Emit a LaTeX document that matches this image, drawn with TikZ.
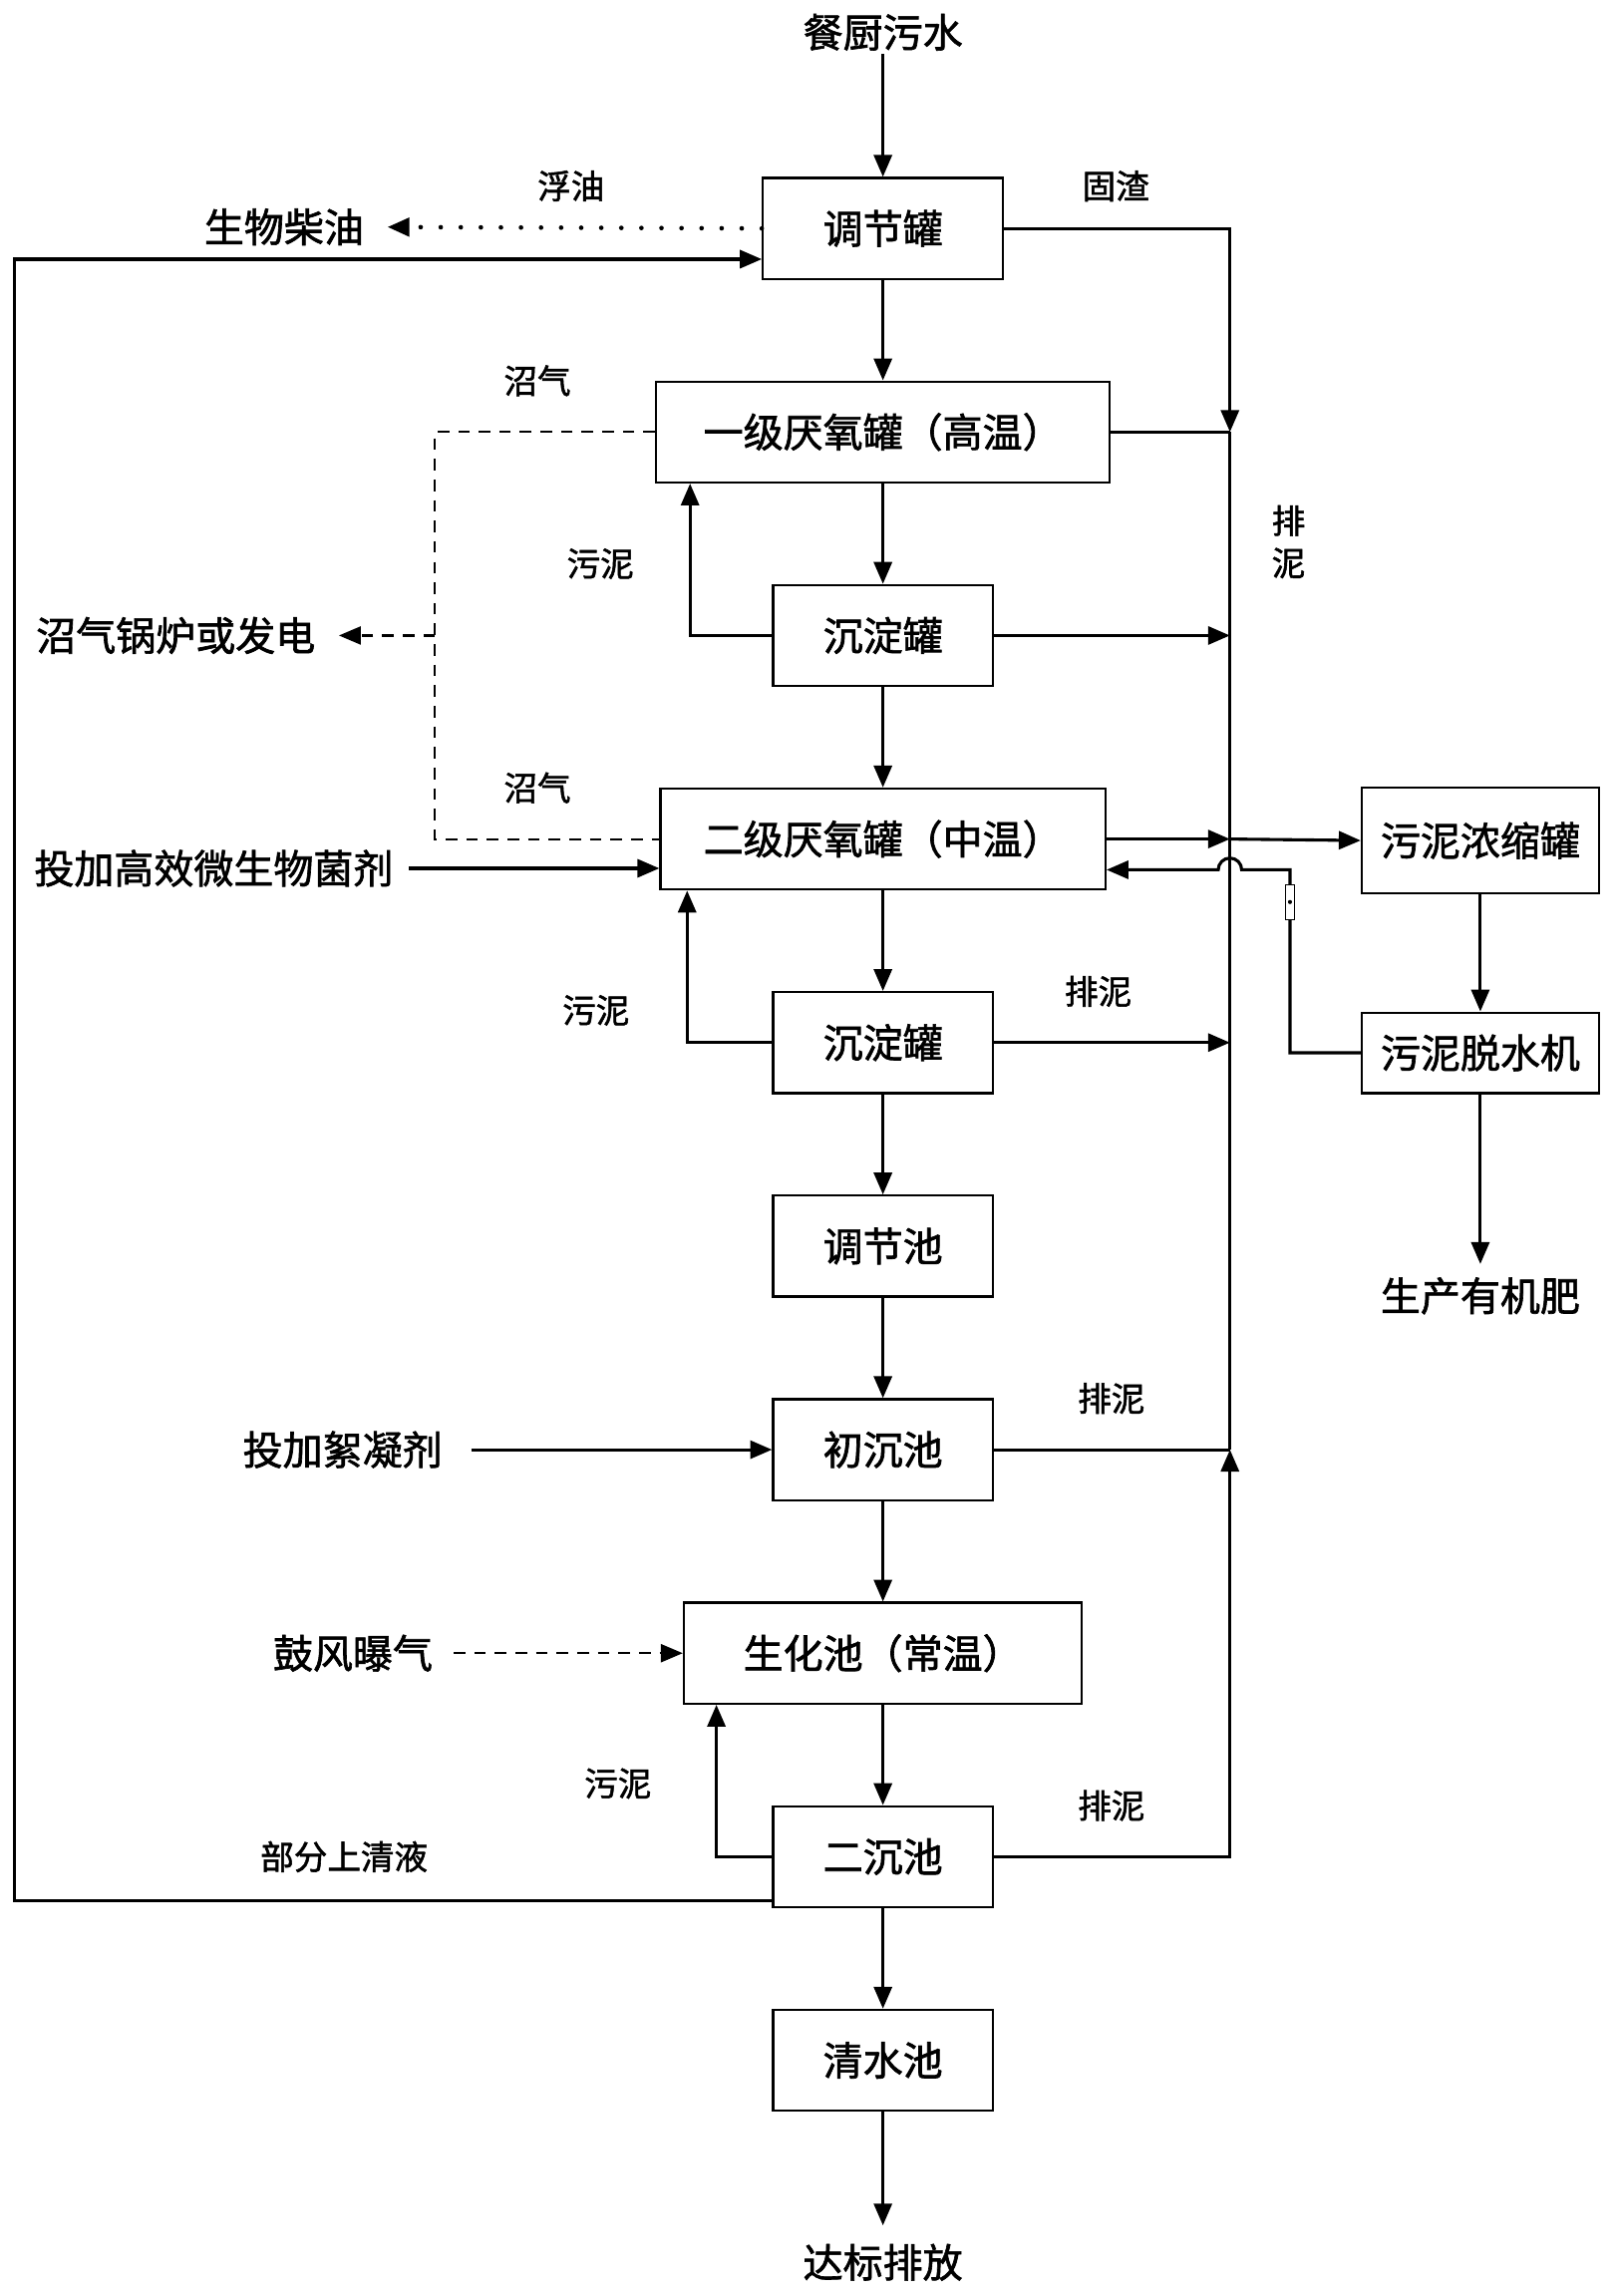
\documentclass[tikz,border=0pt]{standalone}
\usepackage{fontspec}
\newfontfamily\cjk[FakeBold=1.6]{Noto Sans CJK SC}
\usetikzlibrary{arrows.meta}
\newcommand{\bigcn}{\cjk\fontsize{15.5}{18}\selectfont}
\newcommand{\smallcn}{\cjk\fontsize{13}{16.4}\selectfont}

\begin{document}
\begin{tikzpicture}[x=0.02cm, y=-0.02cm,
    tank/.style={draw, line width=0.85pt, minimum width=3cm, minimum height=1.38cm, inner sep=0pt, font=\bigcn},
    lbl/.style={inner sep=1pt, font=\bigcn},
    tag/.style={inner sep=1pt, font=\smallcn},
    pipe/.style={line width=1.2pt},
    flow/.style={pipe, -{Triangle[length=8.5pt, width=7pt]}},
    gas/.style={line width=0.85pt, dash pattern=on 4.5pt off 3.5pt},
    gasflow/.style={gas, -{Triangle[length=8.5pt, width=7pt]}},
    oil/.style={line width=1.8pt, dash pattern=on 0pt off 7.8pt, line cap=round, -{Triangle[length=8.5pt, width=7pt, line cap=butt]}}]
    \useasboundingbox (0,0) rectangle (1103,1568);

    % main line
    \node[tank, minimum width=3.28cm] (tj) at (603,156) {调节罐};
    \node[tank, minimum width=6.2cm] (a1) at (603,295) {一级厌氧罐（高温）};
    \node[tank] (s1) at (603,434) {沉淀罐};
    \node[tank, minimum width=6.08cm] (a2) at (603,573) {二级厌氧罐（中温）};
    \node[tank] (s2) at (603,712) {沉淀罐};
    \node[tank] (tc) at (603,851) {调节池};
    \node[tank] (cc) at (603,990) {初沉池};
    \node[tank, minimum width=5.44cm] (sh) at (603,1129) {生化池（常温）};
    \node[tank] (ec) at (603,1268) {二沉池};
    \node[tank] (qs) at (603,1407) {清水池};
    % sludge line
    \node[tank, minimum width=3.24cm, minimum height=1.44cm] (ns) at (1011,574) {污泥浓缩罐};
    \node[tank, minimum width=3.24cm, minimum height=1.1cm] (ts) at (1011,719) {污泥脱水机};

    \node[lbl] (in) at (603,22) {餐厨污水};
    \node[lbl] (out) at (603,1545) {达标排放};
    \node[lbl] (bd) at (194,155) {生物柴油};
    \node[lbl] (gl) at (120,434) {沼气锅炉或发电};
    \node[lbl] (jj) at (146,593) {投加高效微生物菌剂};
    \node[lbl] (xn) at (234,990) {投加絮凝剂};
    \node[lbl] (gf) at (241,1129) {鼓风曝气};
    \node[lbl] (fl) at (1011,885) {生产有机肥};

    \node[tag] (fy) at (390,127) {浮油};
    \node[tag] (gz) at (762,127) {固渣};
    \node[tag] (zq1) at (367,260) {沼气};
    \node[tag] (zq2) at (367,538) {沼气};
    \node[tag] (wn1) at (410,385) {污泥};
    \node[tag] (wn2) at (407,690) {污泥};
    \node[tag] (wn3) at (422,1218) {污泥};
    \node[tag, align=center] (pn1) at (880,370) {排\\泥};
    \node[tag] (pn2) at (750,677) {排泥};
    \node[tag] (pn3) at (759,955) {排泥};
    \node[tag] (pn4) at (759,1233) {排泥};
    \node[tag] (bf) at (235,1268) {部分上清液};

    \coordinate (bt) at (840,156);
    \coordinate (gb) at (297,295);
    \coordinate (rl) at (10,1298);
    \coordinate (rt) at (0,177);
    \coordinate (rb) at (881,594);
    \coordinate (hop) at (848,594);

    \draw[flow] (in) -- (tj);
    \foreach \a/\b in {tj/a1, a1/s1, s1/a2, a2/s2, s2/tc, tc/cc, cc/sh, sh/ec, ec/qs}
        \draw[flow] (\a) -- (\b);
    \draw[flow, shorten >=6pt] (qs) -- (out);

    \draw[oil, shorten >=8pt] (tj.west) -- (bd.east);
    \draw[flow] (ec.west |- rl) -- (rl) |- (tj.west |- rt);

    % sludge back to the tanks
    \draw[flow] (s1.west) -| ([xshift=0.48cm]a1.south west);
    \draw[flow] (s2.west) -| ([xshift=0.38cm]a2.south west);
    \draw[flow] (ec.west) -| ([xshift=0.46cm]sh.south west);

    % biogas
    \draw[gas] (a1.west) -- (gb) |- (a2.west);
    \draw[gasflow, shorten >=8pt] (gl -| gb) -- (gl.east);

    \draw[flow, shorten <=5pt] (jj.east) -- (jj.east -| a2.west);
    \draw[flow, shorten <=10pt] (xn.east) -- (cc.west);
    \draw[gasflow, shorten <=7pt] (gf.east) -- (sh.west);

    % sludge discharge
    \draw[flow] (tj.east) -| (a1.east -| bt);
    \draw[pipe] (a1.east) -- (a1.east -| bt);
    \draw[pipe] (a1.east -| bt) -- (cc.east -| bt);
    \draw[flow] (s1.east) -- (s1.east -| bt);
    \draw[flow] (a2.east) -- (a2.east -| bt);
    \draw[flow] (a2.east -| bt) -- (ns.west);
    \draw[flow] (s2.east) -- (s2.east -| bt);
    \draw[pipe] (cc.east) -- (cc.east -| bt);
    \draw[flow] (ec.east) -| (cc.east -| bt);

    \draw[flow] (ns) -- (ts);
    \draw[flow, shorten >=4pt] (ts) -- (fl);
    \draw[flow] (ts.west) -| (rb) -- (hop) arc[start angle=0, end angle=180, radius=0.16cm] -- (a2.east |- rb);
    \draw[line width=0.4pt, fill=white] (878,604) rectangle (884,628);
    \fill (881,616) circle (0.8pt);
\end{tikzpicture}
\end{document}
